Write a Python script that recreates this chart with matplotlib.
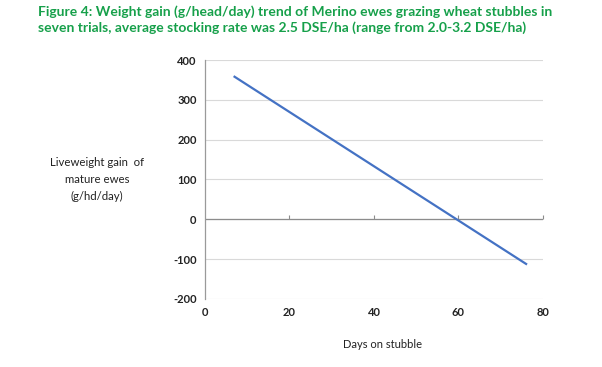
import matplotlib
matplotlib.use('Agg')
import matplotlib.pyplot as plt

# trend line end points
days = [7, 76]
gain = [358, -112]

x_ticks = [0, 20, 40, 60, 80]
y_ticks = [-200, -100, 0, 100, 200, 300, 400]

title = ("Figure 4: Weight gain (g/head/day) trend of Merino ewes grazing wheat stubbles in\n"
         "seven trials, average stocking rate was 2.5 DSE/ha (range from 2.0-3.2 DSE/ha)")

plt.rcParams['font.family'] = ['Lato', 'DejaVu Sans']
plt.rcParams['axes.unicode_minus'] = False

fig = plt.figure(figsize=(6.02, 3.67), dpi=100)
ax = fig.add_axes([0.3405, 0.1853, 0.5615, 0.6512])

ax.plot(days, gain, color='#4472c4', lw=1.6)

ax.set_xlim(0, 80)
ax.set_ylim(-200, 400)
ax.set_xticks(x_ticks)
ax.set_yticks(y_ticks)
ax.yaxis.grid(True, color='#d9d9d9', lw=0.8)
ax.set_axisbelow(True)

for s in ['top', 'right', 'bottom']:
    ax.spines[s].set_visible(False)
ax.spines['left'].set_color('#9a9a9a')
ax.spines['left'].set_linewidth(0.9)
ax.axhline(0, color='#8c8c8c', lw=0.9, zorder=1)

ax.tick_params(axis='both', length=0, labelsize=8, colors='#222222', pad=6)
for lab in ax.get_xticklabels() + ax.get_yticklabels():
    lab.set_fontweight('bold')

# small tick marks on the zero line
sec = ax.secondary_xaxis(1 / 3)
sec.set_xticks(x_ticks[1:])
sec.tick_params(direction='in', length=3, color='#8c8c8c', labelbottom=False)
sec.spines['bottom'].set_visible(False)

fig.text(0.161, 0.51, "Liveweight gain  of\nmature ewes\n(g/hd/day)", ha='center', va='center',
         fontsize=8.2, color='#222222', linespacing=1.65)
fig.text(0.635, 0.06, "Days on stubble", ha='center', va='center', fontsize=8, color='#222222')

fig.text(0.063, 0.985, title, ha='left', va='top', fontsize=10, fontweight='bold',
         color='#16a04a', linespacing=1.3)

fig.savefig('out.png', dpi=100)
